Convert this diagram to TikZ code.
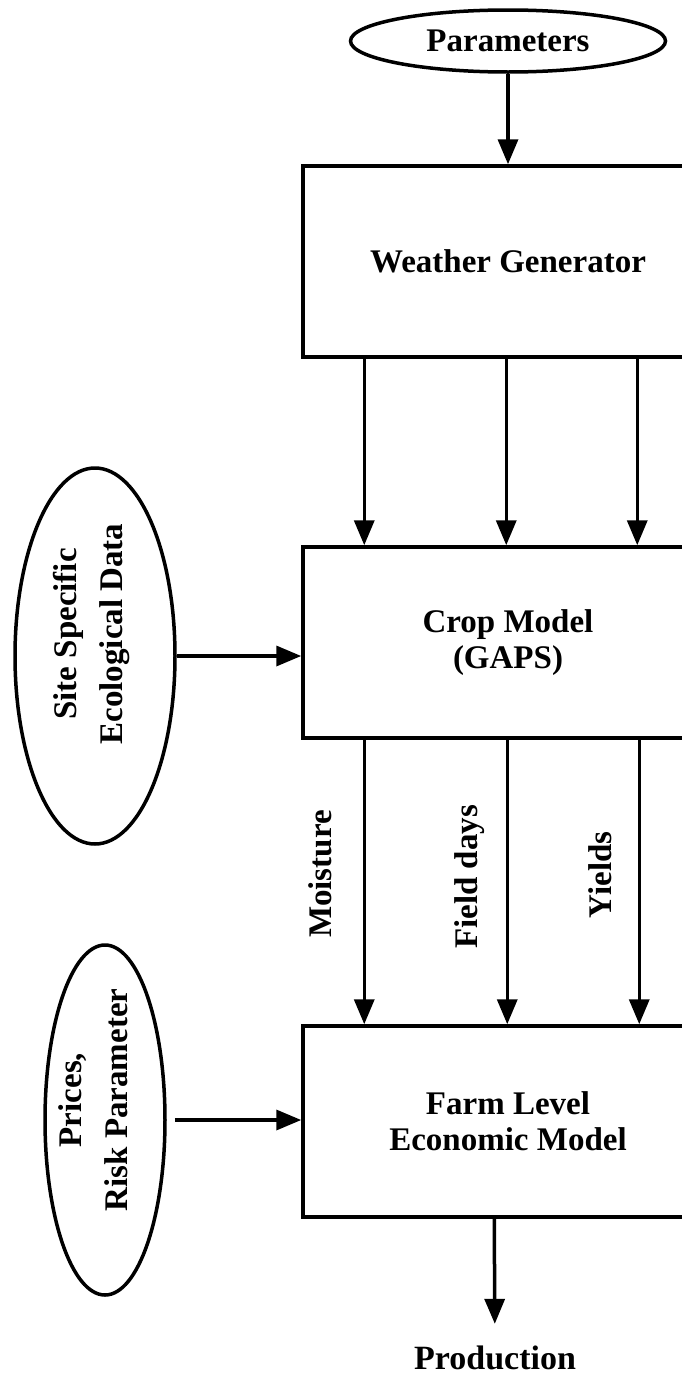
\documentclass[tikz,border=0pt]{standalone}
\usepackage{fontspec}
\setmainfont{Liberation Serif}
\usetikzlibrary{shapes.geometric,arrows.meta}

\tikzset{
    oval/.style={draw, ellipse, line width=3.5pt, inner sep=0pt},
    ovaltext/.style={rotate=90, align=center, font=\fontsize{33}{46}\selectfont\bfseries},
    modelbox/.style={draw, rectangle, line width=3.5pt, minimum width=410pt,
        minimum height=191pt, align=center, font=\fontsize{33}{36}\selectfont\bfseries},
    arr/.style={line width=3.5pt, -{Triangle[length=25pt,width=20pt]}},
    lbl/.style={rotate=90, font=\fontsize{33}{36}\selectfont\bfseries}
}

\begin{document}
\begin{tikzpicture}[x=1pt, y=-1pt]
        \useasboundingbox (0,0) rectangle (682,1376);
        \clip (0,0) rectangle (682,1376);

        % inputs on the left and on top
        \node[oval, minimum width=315pt, minimum height=62pt,
            font=\fontsize{33}{36}\selectfont\bfseries] (params) at (508,41) {Parameters};
        \node[oval, minimum width=160pt, minimum height=376pt] (site) at (95,656) {};
        \node[ovaltext] (sitetext) at (92,634) {Site Specific\\Ecological Data};
        \node[oval, minimum width=120pt, minimum height=350pt] (prices) at (105,1120) {};
        \node[ovaltext] (pricestext) at (93,1100) {Prices,\\Risk Parameter};

        % the three models, cut off at the right
        \node[modelbox] (weather) at (508,261.5) {Weather Generator};
        \node[modelbox] (crop) at (508,642.5) {Crop Model\\(GAPS)};
        \node[modelbox] (farm) at (508,1121.5) {Farm Level\\Economic Model};

        \node[font=\fontsize{34}{36}\selectfont\bfseries, inner sep=2pt] (prod) at (495,1358) {Production};

        \draw[arr] (params) -- (weather);

        \draw[arr] ([xshift=63pt]weather.south west) -- ([xshift=63pt]crop.north west);
        \draw[arr] ([xshift=205pt]weather.south west) -- ([xshift=205pt]crop.north west);
        \draw[arr] ([xshift=336pt]weather.south west) -- ([xshift=336pt]crop.north west);

        \draw[arr] (site) -- (site -| crop.west);

        \draw[arr] ([xshift=63pt]crop.south west) -- ([xshift=63pt]farm.north west);
        \draw[arr] ([xshift=206pt]crop.south west) -- ([xshift=206pt]farm.north west);
        \draw[arr] ([xshift=338pt]crop.south west) -- ([xshift=338pt]farm.north west);
        \node[lbl] (moist) at (320,874) {Moisture};
        \node[lbl] (fdays) at (470,877) {Field days};
        \node[lbl] (yields) at (600,875) {Yields};

        \draw[arr, shorten <=8pt] (prices) -- (prices -| farm.west);

        \draw[arr, shorten >=20pt] ([xshift=193pt]farm.south west) -- (prod);
    \end{tikzpicture}
\end{document}
